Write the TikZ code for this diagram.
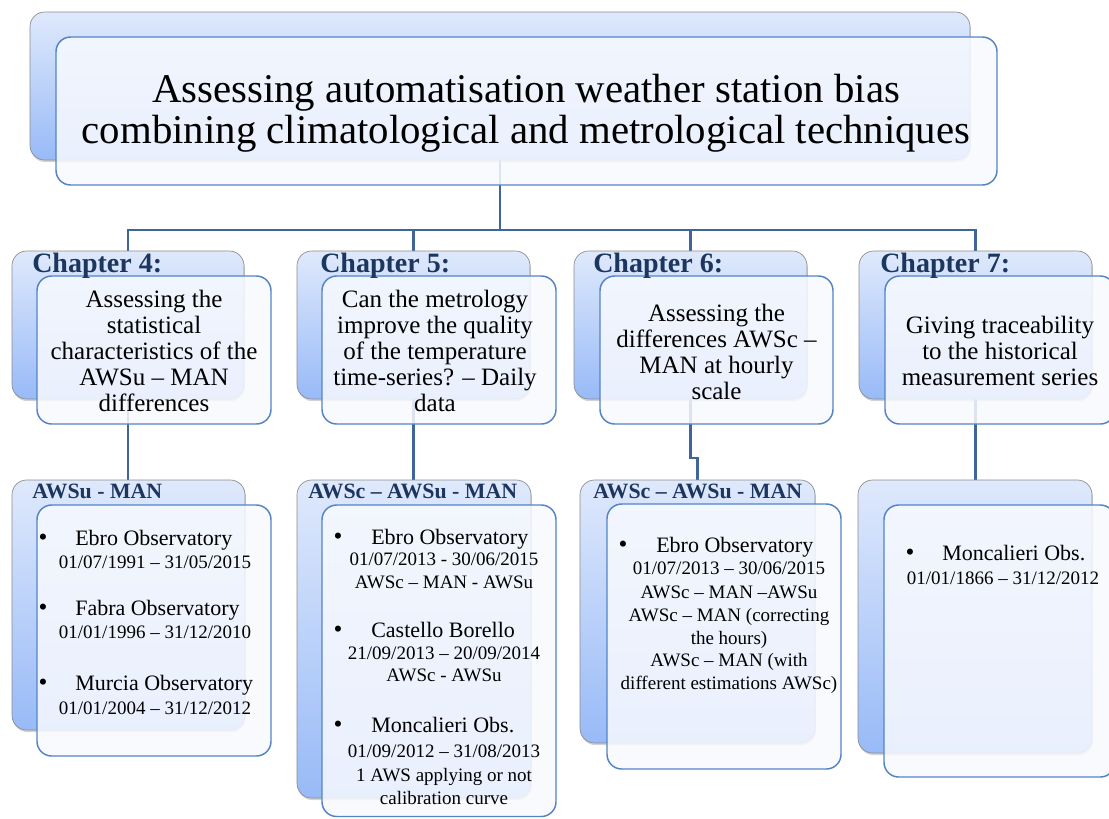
\documentclass[tikz,border=0pt]{standalone}
\usepackage{fontspec}
\setmainfont{Liberation Serif}
\usetikzlibrary{shadows}

\definecolor{backtop}{RGB}{223,233,252}
\definecolor{backbot}{RGB}{152,186,247}
\definecolor{frontfill}{RGB}{247,249,254}
\definecolor{frontline}{RGB}{84,132,196}
\definecolor{linkblue}{RGB}{63,102,156}
\definecolor{headnavy}{RGB}{28,54,95}

\pgfdeclarelayer{links}
\pgfsetlayers{links,main}

% box node spanning (x1,y1)-(x2,y2) in pixel units
\newcommand\pxbox[6]{%
  \node[#2, minimum width={(#5-#3)*0.75pt}, minimum height={(#6-#4)*0.75pt}]
    (#1) at ({(#3+#5)/2},{(#4+#6)/2}) {};}

\begin{document}
\begin{tikzpicture}[x=0.75pt,y=-0.75pt,
  backbox/.style={draw=black!45, line width=0.5pt, top color=backtop,
    bottom color=backbot, rounded corners=11pt, inner sep=0pt, outer sep=0pt,
    drop shadow={shadow xshift=0.6pt, shadow yshift=-1.6pt, opacity=0.35}},
  frontbox/.style={draw=frontline, line width=1.1pt, fill=frontfill,
    fill opacity=0.86, rounded corners=11pt, inner sep=0pt, outer sep=0pt},
  link/.style={draw=linkblue, line width=2.1pt},
  title/.style={align=center, inner sep=0pt, font=\fontsize{30.6}{30.75}\selectfont},
  chead/.style={anchor=base west, inner sep=0pt, text=headnavy,
    font=\fontsize{21}{23}\selectfont\bfseries},
  bhead/.style={anchor=base west, inner sep=0pt, text=headnavy,
    font=\fontsize{16.4}{18}\selectfont\bfseries},
  cbody/.style={align=center, inner sep=0pt, font=\fontsize{18.75}{19.5}\selectfont},
  iname/.style={anchor=base west, inner sep=0pt, font=\fontsize{16.5}{18}\selectfont},
  idet/.style={anchor=base, inner sep=0pt, font=\fontsize{14.25}{17}\selectfont},
  ibul/.style={anchor=base, inner sep=0pt, font=\fontsize{19}{20}\selectfont},
]
\useasboundingbox (0,0) rectangle (1109,818);
\clip (0,0) rectangle (1109,818);

% ---- top box ----
\pxbox{topb}{backbox}{30}{12}{970}{160}
\pxbox{topf}{frontbox}{56}{37}{997}{185}

% ---- chapter boxes ----
\pxbox{c4b}{backbox}{12}{251}{244}{399}
\pxbox{c4f}{frontbox}{37}{276}{271}{424}
\pxbox{c5b}{backbox}{297}{251}{530}{399}
\pxbox{c5f}{frontbox}{322}{276}{556}{424}
\pxbox{c6b}{backbox}{574}{251}{807}{399}
\pxbox{c6f}{frontbox}{600}{276}{833}{424}
\pxbox{c7b}{backbox}{859}{251}{1092}{399}
\pxbox{c7f}{frontbox}{885}{276}{1115}{424}

% ---- data boxes ----
\pxbox{b1b}{backbox}{12}{480}{245}{730}
\pxbox{b1f}{frontbox}{37}{505}{271}{756}
\pxbox{b2b}{backbox}{297}{480}{531}{798}
\pxbox{b2f}{frontbox}{322}{505}{556}{816.5}
\pxbox{b3b}{backbox}{580}{480}{815}{743}
\pxbox{b3f}{frontbox}{607}{504}{841}{769}
\pxbox{b4b}{backbox}{858}{480}{1092}{753}
\pxbox{b4f}{frontbox}{884}{505}{1115}{777}

% ---- connectors (behind the boxes) ----
\begin{pgfonlayer}{links}
  \coordinate (hub) at (500,230);
  \coordinate (jog) at (690,458);
  \draw[link] (topb.south) -- (hub);
  \draw[link] (hub) -| (c4b.north);
  \draw[link] (hub) -| (c5b.north);
  \draw[link] (hub) -| (c6b.north);
  \draw[link] (hub) -| (c7b.north);
  \draw[link] (c4b.south) -- (c4b.south |- b1b.north);
  \draw[link] (c5b.south) -- (c5b.south |- b2b.north);
  \draw[link] (c6b.south) -- (c6b.south |- jog) -| (b3b.north);
  \draw[link] (c7b.south) -- (c7b.south |- b4b.north);
\end{pgfonlayer}

% ---- title ----
\node[title] (ttl) at (526,113)
  {Assessing automatisation weather station bias\\combining climatological and metrological techniques};

% ---- chapter headings and questions ----
\node[chead] (h4) at (32,272) {Chapter 4:};
\node[chead] (h5) at (320,272) {Chapter 5:};
\node[chead] (h6) at (593,272) {Chapter 6:};
\node[chead] (h7) at (880,272) {Chapter 7:};

\node[cbody] (q4) at (154,351) {Assessing the\\statistical\\characteristics of the\\AWSu – MAN\\differences};
\node[cbody] (q5) at (435,351) {Can the metrology\\improve the quality\\of the temperature\\time-series? – Daily\\data};
\node[cbody] (q6) at (716.5,352) {Assessing the\\differences AWSc –\\MAN at hourly\\scale};
\node[cbody] (q7) at (1000,351) {Giving traceability\\to the historical\\measurement series};

% ---- data headings ----
\node[bhead] (d1) at (32,498) {AWSu - MAN};
\node[bhead] (d2) at (308,498) {AWSc – AWSu - MAN};
\node[bhead] (d3) at (593,498) {AWSc – AWSu - MAN};

% ---- column 1 ----
\node[ibul] (p1a) at (43,545) {•};
\node[iname] (n1a) at (75,545) {Ebro Observatory};
\node[idet] (e1a) at (155,568) {01/07/1991 – 31/05/2015};
\node[ibul] (p1b) at (43,615) {•};
\node[iname] (n1b) at (75,615) {Fabra Observatory};
\node[idet] (e1b) at (155,638) {01/01/1996 – 31/12/2010};
\node[ibul] (p1c) at (43,690) {•};
\node[iname] (n1c) at (75,690) {Murcia Observatory};
\node[idet] (e1c) at (155,714) {01/01/2004 – 31/12/2012};

% ---- column 2 ----
\node[ibul] (p2a) at (338,544) {•};
\node[iname] (n2a) at (371,544) {Ebro Observatory};
\node[idet] (e2a) at (444,565) {01/07/2013 - 30/06/2015};
\node[idet] (f2a) at (444,588) {AWSc – MAN - AWSu};
\node[ibul] (p2b) at (338,637) {•};
\node[iname] (n2b) at (371,637) {Castello Borello};
\node[idet] (e2b) at (444,659) {21/09/2013 – 20/09/2014};
\node[idet] (f2b) at (444,681) {AWSc - AWSu};
\node[ibul] (p2c) at (338,732) {•};
\node[iname] (n2c) at (371,732) {Moncalieri Obs.};
\node[idet] (e2c) at (444,757) {01/09/2012 – 31/08/2013};
\node[idet] (f2c) at (444,781) {1 AWS applying or not};
\node[idet] (g2c) at (444,804) {calibration curve};

% ---- column 3 ----
\node[ibul] (p3a) at (623,552) {•};
\node[iname] (n3a) at (656,552) {Ebro Observatory};
\node[idet] (e3a) at (729,574) {01/07/2013 – 30/06/2015};
\node[idet] (e3b) at (729,598) {AWSc – MAN –AWSu};
\node[idet] (e3c) at (729,621) {AWSc – MAN (correcting};
\node[idet] (e3d) at (729,644) {the hours)};
\node[idet] (e3e) at (729,666) {AWSc – MAN (with};
\node[idet] (e3f) at (729,689) {different estimations AWSc)};

% ---- column 4 ----
\node[ibul] (p4a) at (910,560) {•};
\node[iname] (n4a) at (942,560) {Moncalieri Obs.};
\node[idet] (e4a) at (1003,584) {01/01/1866 – 31/12/2012};
\end{tikzpicture}
\end{document}
